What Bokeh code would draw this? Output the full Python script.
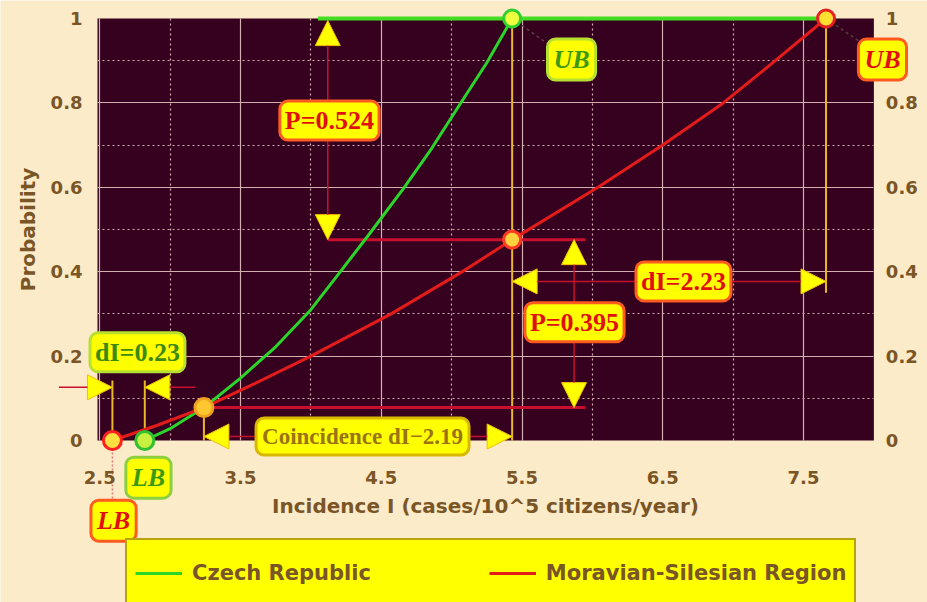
from bokeh.plotting import figure
from bokeh.models import (Range1d, LinearAxis, FixedTicker, Grid, Label, Arrow,
                          NormalHead, Legend, LegendItem)
from bokeh.embed import file_html
from bokeh.resources import INLINE

# ---------------- data ----------------
SERIES = ["Czech Republic", "Moravian-Silesian Region"]
I_CZ = [2.82, 3.00, 3.24, 3.50, 3.75, 4.00, 4.20, 4.41, 4.66, 4.86, 5.05, 5.25, 5.43]
P_CZ = [0.0, 0.028, 0.078, 0.148, 0.222, 0.31, 0.396, 0.487, 0.598, 0.693, 0.792, 0.895, 1.0]
I_MS = [2.59, 2.90, 3.24, 3.60, 4.00, 4.57, 5.10, 5.43, 6.04, 6.50, 6.93, 7.30, 7.66]
P_MS = [0.0, 0.035, 0.078, 0.135, 0.20, 0.30, 0.405, 0.476, 0.60, 0.70, 0.80, 0.90, 1.0]

LB_CZ, UB_CZ = 2.82, 5.43          # bounds, Czech Republic
LB_MS, UB_MS = 2.59, 7.66          # bounds, Moravian-Silesian Region
COINC_I, COINC_P = 3.24, 0.078     # coincidence point
P_MS_AT_UB_CZ = 0.476              # red curve at the Czech upper bound

X_TICKS = [2.5, 3.5, 4.5, 5.5, 6.5, 7.5]
X_MINOR = [3.0, 4.0, 5.0, 6.0, 7.0]
Y_TICKS = [0, 0.2, 0.4, 0.6, 0.8, 1]
Y_MINOR = [0.1, 0.3, 0.5, 0.7, 0.9]
Y_TICK_LABELS = {0: "0", 1: "1"}
X_DOMAIN = (2.484, 8.0)
Y_DOMAIN = (0.0, 1.0)

TEXT_P1 = "P=0.524"
TEXT_P2 = "P=0.395"
TEXT_DI_UB = "dI=2.23"
TEXT_DI_LB = "dI=0.23"
TEXT_COINC = "Coincidence dI\u22122.19"
X_TITLE = "Incidence I (cases/10^5 citizens/year)"
Y_TITLE = "Probability"

# ---------------- styles ----------------
BG = "#FCEBC8"
PLOT_BG = "#35011F"
TXT = "#7A5526"
GRID = "#D4AFB2"
GREEN = "#2BD62B"
RED = "#E41B1B"
DARKRED = "#C8102E"
GOLD = "#E8B826"
YELLOW = "#FFFF00"
SANS = "DejaVu Sans"
SERIF = "Liberation Serif"

p = figure(width=927, height=602,
           x_range=Range1d(1.7948, 8.3810), y_range=Range1d(-0.38389, 1.04265),
           output_backend="svg", toolbar_location=None,
           x_axis_type=None, y_axis_type=None,
           min_border=0, min_border_left=0, min_border_right=0,
           min_border_top=0, min_border_bottom=0,
           background_fill_color=BG, border_fill_color=BG,
           outline_line_color=None)

# dark plotting area
p.quad(left=[X_DOMAIN[0]], right=[X_DOMAIN[1]], bottom=[Y_DOMAIN[0]], top=[Y_DOMAIN[1]],
       fill_color=PLOT_BG, line_color=None, level="image")

# grid restricted to the plotting area
try:
    xg = Grid(dimension=0, ticker=FixedTicker(ticks=X_TICKS, minor_ticks=X_MINOR),
              bounds=X_DOMAIN, cross_bounds=Y_DOMAIN)
    yg = Grid(dimension=1, ticker=FixedTicker(ticks=Y_TICKS[1:-1], minor_ticks=Y_MINOR),
              bounds=Y_DOMAIN, cross_bounds=X_DOMAIN)
    for g in (xg, yg):
        g.grid_line_color = GRID
        g.grid_line_width = 1.2
        g.minor_grid_line_color = GRID
        g.minor_grid_line_width = 1.2
        g.minor_grid_line_dash = "2 3"
        p.add_layout(g)
except Exception:
    p.segment(x0=X_TICKS, y0=[Y_DOMAIN[0]] * len(X_TICKS), x1=X_TICKS, y1=[Y_DOMAIN[1]] * len(X_TICKS),
              line_color=GRID, line_width=1.2)
    p.segment(x0=X_MINOR, y0=[Y_DOMAIN[0]] * len(X_MINOR), x1=X_MINOR, y1=[Y_DOMAIN[1]] * len(X_MINOR),
              line_color=GRID, line_width=1.2, line_dash="2 3")
    yt = Y_TICKS[1:-1]
    p.segment(x0=[X_DOMAIN[0]] * len(yt), y0=yt, x1=[X_DOMAIN[1]] * len(yt), y1=yt,
              line_color=GRID, line_width=1.2)
    p.segment(x0=[X_DOMAIN[0]] * len(Y_MINOR), y0=Y_MINOR, x1=[X_DOMAIN[1]] * len(Y_MINOR), y1=Y_MINOR,
              line_color=GRID, line_width=1.2, line_dash="2 3")

# axes fixed on the plotting area edges
def style_axis(ax):
    ax.axis_line_color = None
    ax.major_tick_line_color = None
    ax.minor_tick_line_color = None
    ax.major_tick_out = 0
    ax.major_tick_in = 0
    ax.minor_tick_out = 0
    ax.minor_tick_in = 0
    ax.major_label_text_font = SANS
    ax.major_label_text_font_style = "bold"
    ax.major_label_text_font_size = "18px"
    ax.major_label_text_color = TXT
    ax.axis_label_text_font = SANS
    ax.axis_label_text_font_style = "bold"
    ax.axis_label_text_font_size = "20px"
    ax.axis_label_text_color = TXT

xaxis = LinearAxis(fixed_location=Y_DOMAIN[0], ticker=FixedTicker(ticks=X_TICKS),
                   axis_label=X_TITLE, bounds=X_DOMAIN)
style_axis(xaxis)
xaxis.major_label_standoff = 31
xaxis.axis_label_standoff = 6
p.add_layout(xaxis, "below")

yl = LinearAxis(fixed_location=X_DOMAIN[0], ticker=FixedTicker(ticks=Y_TICKS),
                axis_label=Y_TITLE, major_label_overrides=Y_TICK_LABELS, bounds=Y_DOMAIN)
style_axis(yl)
yl.major_label_standoff = 15
yl.axis_label_standoff = 8
p.add_layout(yl, "left")

yr = LinearAxis(fixed_location=X_DOMAIN[1], ticker=FixedTicker(ticks=Y_TICKS),
                major_label_overrides=Y_TICK_LABELS, bounds=Y_DOMAIN)
style_axis(yr)
yr.major_label_standoff = 12
p.add_layout(yr, "right")

# guide lines
p.segment(x0=[LB_MS, LB_CZ, COINC_I, UB_CZ, UB_MS],
          y0=[0, 0, 0, 0, 0.35],
          x1=[LB_MS, LB_CZ, COINC_I, UB_CZ, UB_MS],
          y1=[0.142, 0.142, COINC_P, 1, 1],
          line_color=GOLD, line_width=2)
p.segment(x0=[4.12, COINC_I], y0=[P_MS_AT_UB_CZ, COINC_P],
          x1=[5.95, 5.95], y1=[P_MS_AT_UB_CZ, COINC_P],
          line_color=DARKRED, line_width=3)
p.segment(x0=[4.05], y0=[1.0], x1=[UB_MS], y1=[1.0], line_color="#44DD22", line_width=4)
p.segment(x0=[LB_MS], y0=[0], x1=[LB_MS], y1=[-0.155], line_color="#E07A7A",
          line_width=1.5, line_dash="2 2")
p.segment(x0=[UB_CZ, UB_MS], y0=[1, 1], x1=[5.70, 7.94], y1=[0.936, 0.936],
          line_color="#5A4040", line_width=1.5, line_dash="3 3")

# curves
r_cz = p.line(I_CZ, P_CZ, line_color=GREEN, line_width=3)
r_ms = p.line(I_MS, P_MS, line_color=RED, line_width=3)

# arrows
def head():
    return NormalHead(size=25, fill_color=YELLOW, line_color="#F0C000", line_width=1)

arrow_specs = [
    (4.12, P_MS_AT_UB_CZ, 4.12, 0.995, True),
    (5.87, COINC_P, 5.87, P_MS_AT_UB_CZ, True),
    (UB_CZ, 0.377, UB_MS, 0.377, True),
    (COINC_I, 0.0095, UB_CZ, 0.0095, True),
    (2.21, 0.126, LB_MS, 0.126, False),
    (3.18, 0.126, LB_CZ, 0.126, False),
]
for xs, ys, xe, ye, both in arrow_specs:
    p.add_layout(Arrow(x_start=xs, y_start=ys, x_end=xe, y_end=ye,
                       start=head() if both else None, end=head(),
                       line_color=DARKRED, line_width=1.5))

# points
p.scatter([UB_CZ], [1.0], size=17, fill_color="#EEFF40", line_color="#30D030", line_width=3)
p.scatter([UB_MS], [1.0], size=17, fill_color="#FFE030", line_color="#E82020", line_width=3)
p.scatter([UB_CZ], [P_MS_AT_UB_CZ], size=17, fill_color="#FFD040", line_color="#FF3A20", line_width=3)
p.scatter([COINC_I], [COINC_P], size=18, fill_color="#FFC830", line_color="#F0A020", line_width=3)
p.scatter([LB_MS], [0.0], size=18, fill_color="#FFE040", line_color="#FF2020", line_width=3)
p.scatter([LB_CZ], [0.0], size=18, fill_color="#C8F040", line_color="#30C030", line_width=3)

# annotation labels
def box_label(x, y, text, color, border, size="26px", style="bold", pad=4):
    p.add_layout(Label(x=x, y=y, text=text, text_font=SERIF, text_font_size=size,
                       text_font_style=style, text_color=color,
                       text_align="center", text_baseline="middle",
                       background_fill_color=YELLOW, background_fill_alpha=1,
                       border_line_color=border, border_line_width=3,
                       border_radius=8, padding=pad))

box_label(4.132, 0.758, TEXT_P1, "#E01010", "#FF5A20", pad=5)
box_label(5.873, 0.280, TEXT_P2, "#E01010", "#FF5A20", pad=5)
box_label(6.647, 0.377, TEXT_DI_UB, "#E01010", "#FF5A20", pad=5)
box_label(2.768, 0.209, TEXT_DI_LB, "#3C8A12", "#B8E030", pad=5)
box_label(4.367, 0.0095, TEXT_COINC, "#9A7412", "#D8B800", size="23px", pad=6)
box_label(5.852, 0.903, "UB", "#3C9A12", "#B8E030", style="bold italic", pad=6)
box_label(8.061, 0.903, "UB", "#E01010", "#FF5A20", style="bold italic", pad=6)
box_label(2.846, -0.088, "LB", "#3C9A12", "#8CD040", style="bold italic", pad=6)
box_label(2.598, -0.190, "LB", "#E01010", "#FF5A20", style="bold italic", pad=6)

# legend
legend = Legend(items=[LegendItem(label=SERIES[0], renderers=[r_cz]),
                       LegendItem(label=SERIES[1], renderers=[r_ms])],
                orientation="horizontal", location=(125, -6),
                background_fill_color=YELLOW, background_fill_alpha=1,
                border_line_color="#6B4A1A", border_line_width=2,
                label_text_font=SANS, label_text_font_style="bold",
                label_text_font_size="21px", label_text_color=TXT,
                glyph_width=47, glyph_height=20, label_height=50,
                label_standoff=10, spacing=118, padding=8, margin=0)
p.add_layout(legend)

open("out.html", "w").write(file_html(p, INLINE))
